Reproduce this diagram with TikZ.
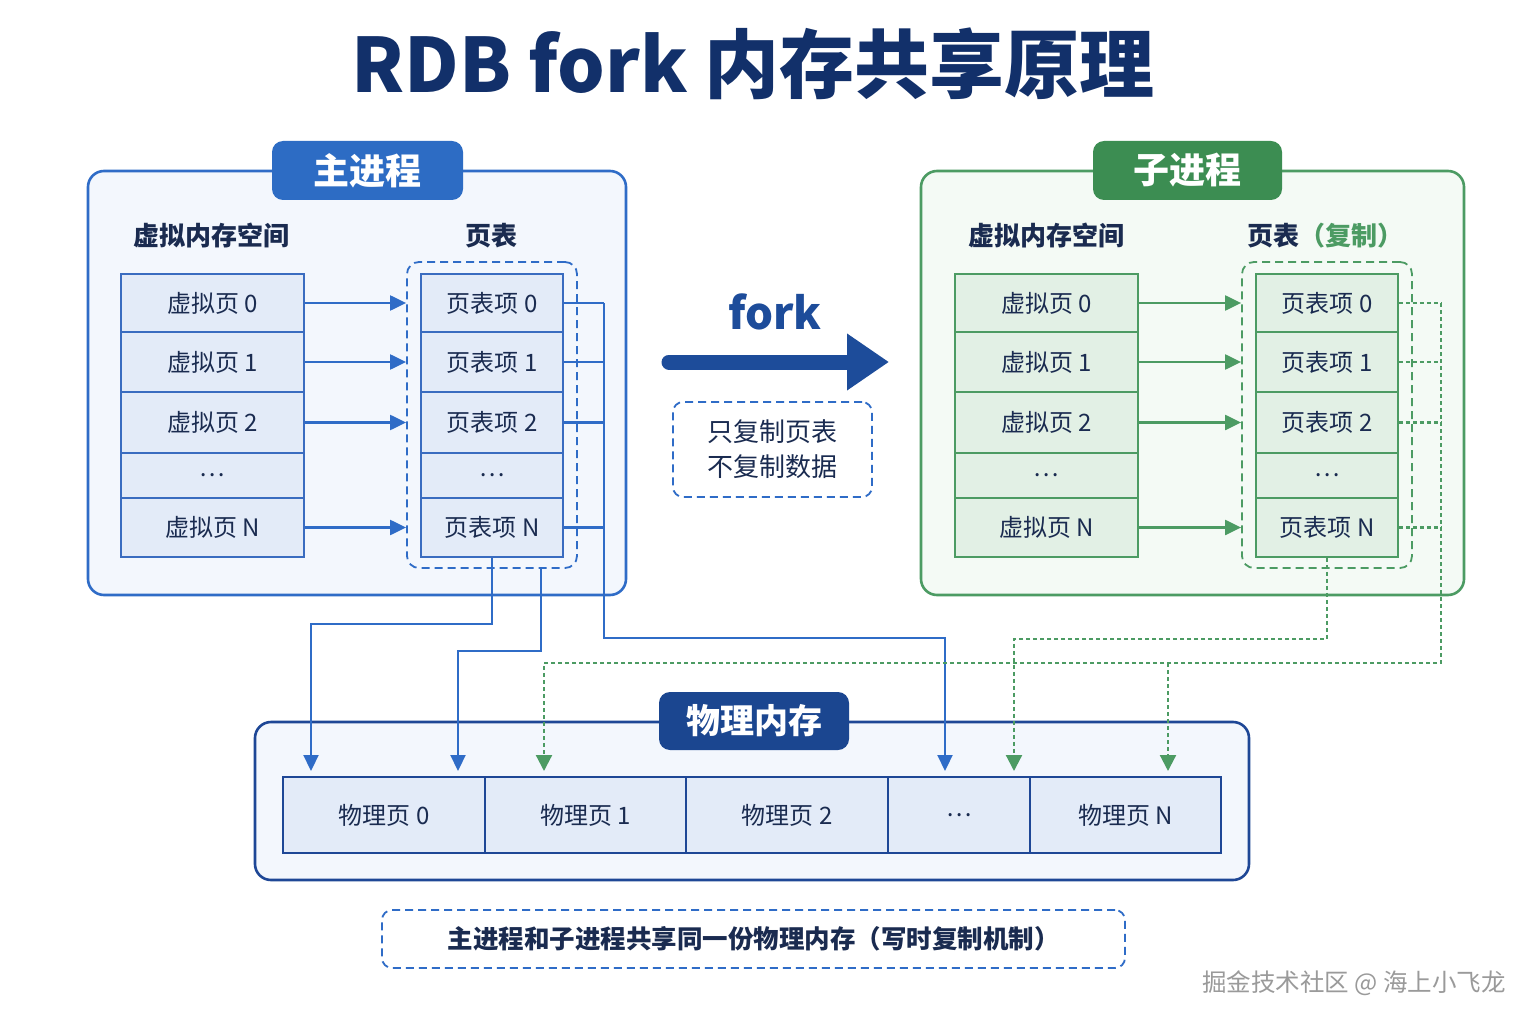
\documentclass[tikz,border=0pt]{standalone}
\usepackage{fontspec}
\setmainfont{Noto Sans CJK SC}
\usetikzlibrary{arrows.meta,calc}
\definecolor{navy}{HTML}{12306A}
\definecolor{txt}{HTML}{1A2B50}
\definecolor{bline}{HTML}{2F6CC7}
\definecolor{bpill}{HTML}{2D6CC4}
\definecolor{gpill}{HTML}{3C8D52}
\definecolor{gline}{HTML}{4C9B63}
\definecolor{mpill}{HTML}{1B4690}
\definecolor{mborder}{HTML}{1E4796}
\definecolor{bfill}{HTML}{F3F7FD}
\definecolor{bcellf}{HTML}{E3EBF8}
\definecolor{bcelld}{HTML}{3A6CC0}
\definecolor{gfill}{HTML}{F4FAF5}
\definecolor{gcellf}{HTML}{E2F0E5}
\definecolor{forkc}{HTML}{1D4C9A}
\definecolor{wm}{HTML}{9A9A9A}
\tikzset{
  container/.style={draw, line width=2.6, rounded corners=16, inner sep=0},
  pill/.style={rounded corners=11, inner sep=0, text=white, font=\fontsize{36}{36}\selectfont\bfseries},
  collabel/.style={text=txt, font=\fontsize{26}{26}\selectfont\bfseries},
  bcell/.style={draw=bcelld, fill=bcellf, line width=1.6, inner sep=0, text=txt, font=\fontsize{24}{24}\selectfont},
  gcell/.style={draw=gline, fill=gcellf, line width=1.6, inner sep=0, text=txt, font=\fontsize{24}{24}\selectfont},
  mcell/.style={draw=mborder, fill=bcellf, line width=1.6, inner sep=0, minimum height=76, text=txt, font=\fontsize{24}{24}\selectfont},
  dbox/.style={draw, line width=1.8, dash pattern=on 8 off 5, rounded corners=12, inner sep=0},
  barr/.style={draw=bline, line width=2.2, -{Triangle[length=16,width=15]}},
  bln/.style={draw=bline, line width=2.2},
  garr/.style={draw=gline, line width=2.2, -{Triangle[length=16,width=15]}},
  gdot/.style={draw=gline, line width=2.2, dash pattern=on 4 off 3},
  gdarr/.style={draw=gline, line width=2.2, dash pattern=on 4 off 3, -{Triangle[length=16,width=16,fill=gline]}},
}
\begin{document}
\begin{tikzpicture}[x=1pt,y=-1pt]
\useasboundingbox[fill=white] (0,0) rectangle (1536,1024);

% title
\node[text=navy, font=\fontsize{75}{75}\selectfont\bfseries] (title) at (753,64) {RDB fork 内存共享原理};

% containers
\node[container, draw=bline, fill=bfill, minimum width=538, minimum height=424] (lbox) at (357,383) {};
\node[container, draw=gline, fill=gfill, minimum width=543, minimum height=424] (rbox) at (1192.5,383) {};
\node[pill, fill=bpill, minimum width=191, minimum height=59] (lpill) at (367.5,170.5) {主进程};
\node[pill, fill=gpill, minimum width=189, minimum height=59] (rpill) at (1187.5,170.5) {子进程};

\node[collabel] (lvl) at (211,236) {虚拟内存空间};
\node[collabel] (lpl) at (491,236) {页表};
\node[collabel] (rvl) at (1046,236) {虚拟内存空间};
\node[collabel] (rpl) at (1325,236) {页表\textcolor{gline}{（复制）}};

% dashed page table boxes
\node[dbox, draw=bline, minimum width=170, minimum height=306] (lpt) at (492,415) {};
\node[dbox, draw=gline, minimum width=170, minimum height=306] (rpt) at (1327,415) {};

% rows
\foreach \i/\yc/\h/\a/\b in {0/303/58/{虚拟页 0}/{页表项 0}, 1/362/60/{虚拟页 1}/{页表项 1}, 2/422.5/61/{虚拟页 2}/{页表项 2}, 3/475.5/45/{…}/{…}, 4/527.5/59/{虚拟页 N}/{页表项 N}}{
  \node[bcell, minimum width=183, minimum height=\h] (v\i) at (212.5,\yc) {\a};
  \node[bcell, minimum width=142, minimum height=\h] (p\i) at (492,\yc) {\b};
  \node[gcell, minimum width=183, minimum height=\h] (cv\i) at (1046.5,\yc) {\a};
  \node[gcell, minimum width=142, minimum height=\h] (cp\i) at (1327,\yc) {\b};
}

% memory
\node[container, draw=mborder, fill=bfill, minimum width=994, minimum height=158] (mbox) at (752,801) {};
\node[pill, fill=mpill, minimum width=190, minimum height=58, font=\fontsize{34}{34}\selectfont\bfseries] (mpill) at (754,721) {物理内存};
\node[mcell, minimum width=202] (m0) at (384,815) {物理页 0};
\node[mcell, minimum width=201] (m1) at (585.5,815) {物理页 1};
\node[mcell, minimum width=202] (m2) at (787,815) {物理页 2};
\node[mcell, minimum width=142] (m3) at (959,815) {…};
\node[mcell, minimum width=191] (m4) at (1125.5,815) {物理页 N};

% arrow ends and junctions
\coordinate (lbus) at (604,303);
\coordinate (rbus) at (1441,303);
\coordinate (t0) at (311,771);
\coordinate (t1) at (458,771);
\coordinate (t2) at (544,771);
\coordinate (t3) at (945,771);
\coordinate (t4) at (1014,771);
\coordinate (t5) at (1168,771);
\coordinate (j5) at (1168,663);

% virtual -> page table arrows
\foreach \i in {0,1,2,4}{
  \draw[barr] (v\i.east) -- (v\i.east -| lpt.west);
  \draw[garr] (cv\i.east) -- (cv\i.east -| rpt.west);
  \draw[bln] (p\i.east) -- (p\i.east -| lbus);
  \draw[gdot] (cp\i.east) -- (cp\i.east -| rbus);
}

% blue connectors to physical memory
\draw[barr] (p4.south) -- ++(0,66) -| (t0);
\draw[barr] ([xshift=49]lpt.south) -- ++(0,82) -| (t1);
\draw[barr] (lbus) -- ++(0,335) -| (t3);

% green connectors
\draw[gdarr] (rbus) -- ++(0,360) -| (t2);
\draw[gdarr] (j5) -- (t5);
\draw[gdarr] (cp4.south) -- ++(0,81) -| (t4);

% fork
\node[text=forkc, font=\fontsize{44}{44}\selectfont\bfseries] (forkt) at (775,312) {fork};
\coordinate (fa) at (669,362);
\coordinate (fb) at (889,362);
\draw[draw=forkc, line width=15, line cap=round, -{Triangle[length=42,width=54,line cap=butt]}] (fa) -- (fb);
\node[dbox, draw=bline, minimum width=199, minimum height=95, rounded corners=10, text=txt, font=\fontsize{26}{35}\selectfont, align=center] (note1) at (772.5,449.5) {只复制页表\\不复制数据};

% bottom note
\node[dbox, draw=bline, minimum width=743, minimum height=58, rounded corners=10, text=txt, font=\fontsize{25.5}{25.5}\selectfont\bfseries] (note2) at (753.5,939) {主进程和子进程共享同一份物理内存（写时复制机制）};

% watermark
\node[text=wm, font=\fontsize{24.5}{24.5}\selectfont] (wmk) at (1354,983) {掘金技术社区 @ 海上小飞龙};
\end{tikzpicture}
\end{document}
